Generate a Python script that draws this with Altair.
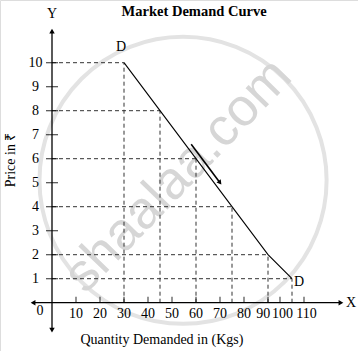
import altair as alt
import pandas as pd

# ---------------- data ----------------
qty = [30, 45, 60, 75, 90, 100]          # quantity demanded (Kgs)
price = [10, 8, 6, 4, 2, 1]              # price in Rs
y_ticks = [1, 2, 3, 4, 5, 6, 7, 8, 9, 10]
y_tick_labels = ["1", "2", "3", "4", "5", "6", "7", "8", "9", "10"]
x_tick_pos = [10, 20, 30, 40, 50, 60, 70, 80, 90, 95, 105]
x_label_pos = [10, 20, 30, 40, 50, 60, 70, 80, 88, 96, 106]
x_tick_labels = ["10", "20", "30", "40", "50", "60", "70", "80", "90", "100", "110"]
curve_labels = ["D", "D"]
move_qty = [58, 70]                      # small arrow along the curve
move_price = [6.6, 5.0]
x_axis_ends = [-7.9, 120.4]
y_axis_ends = [-1.14, 11.32]

title = "Market Demand Curve"
x_title = "Quantity Demanded in (Kgs)"
y_title = "Price in ₹"
watermark = "shaalaa.com"

# ---------------- layout ----------------
W, H = 358, 351
X_DOMAIN = [-52 / 2.4, (358 - 52) / 2.4]
Y_DOMAIN = [(302.7 - 351) / 24, 302.7 / 24]
SERIF = "Liberation Serif"
FS = 14

xs = alt.Scale(domain=X_DOMAIN, nice=False, zero=False)
ys = alt.Scale(domain=Y_DOMAIN, nice=False, zero=False)


def X(f="x"):
    return alt.X(f"{f}:Q", scale=xs, axis=None)


def Y(f="y"):
    return alt.Y(f"{f}:Q", scale=ys, axis=None)


def label(x, y, t, **kw):
    opts = dict(font=SERIF, fontSize=FS, color="#000", align="center", baseline="middle")
    opts.update(kw)
    return alt.Chart(pd.DataFrame({"x": x, "y": y, "t": t})).mark_text(**opts).encode(
        x=X(), y=Y(), text="t:N")


curve = pd.DataFrame({"x": qty, "y": price})

# watermark
ring = alt.Chart(pd.DataFrame({"x": [54.6], "y": [5.1]})).mark_point(
    shape="circle", size=82448, filled=False, stroke="#e3e3e3", strokeWidth=4, opacity=1
).encode(x=X(), y=Y())
wm = label([52.5], [5.3], [watermark], font="Liberation Sans", fontSize=53, color="#d6d6d6", angle=314)

# dashed guides
hd = pd.DataFrame({"x": [0] * len(qty), "x2": qty, "y": price})
vd = pd.DataFrame({"x": qty, "y": [0] * len(qty), "y2": price})
dash_h = alt.Chart(hd).mark_rule(color="#333", strokeDash=[4, 3], strokeWidth=1).encode(
    x=X(), x2="x2:Q", y=Y())
dash_v = alt.Chart(vd).mark_rule(color="#333", strokeDash=[4, 3], strokeWidth=1).encode(
    x=X(), y=Y(), y2="y2:Q")

# axes
xa = alt.Chart(pd.DataFrame({"x": [x_axis_ends[0]], "x2": [x_axis_ends[1]], "y": [0]})).mark_rule(
    color="#000", strokeWidth=1.3).encode(x=X(), x2="x2:Q", y=Y())
ya = alt.Chart(pd.DataFrame({"x": [0], "y": [y_axis_ends[0]], "y2": [y_axis_ends[1]]})).mark_rule(
    color="#000", strokeWidth=1.3).encode(x=X(), y=Y(), y2="y2:Q")
heads = pd.DataFrame({
    "x": [x_axis_ends[0], x_axis_ends[1], 0, 0],
    "y": [0, 0, y_axis_ends[1], y_axis_ends[0]],
    "s": ["triangle-left", "triangle-right", "triangle-up", "triangle-down"],
})
arrowheads = alt.Chart(heads).mark_point(filled=True, color="#000", size=30, opacity=1).encode(
    x=X(), y=Y(), shape=alt.Shape("s:N", scale=None))

yt = alt.Chart(pd.DataFrame({"x": [0] * len(y_ticks), "y": y_ticks})).mark_tick(
    orient="horizontal", size=12, thickness=1.2, color="#000").encode(x=X(), y=Y())
xt = alt.Chart(pd.DataFrame({"x": x_tick_pos, "y": [0] * len(x_tick_pos)})).mark_tick(
    orient="vertical", size=6, thickness=1.2, color="#000", yOffset=-3).encode(x=X(), y=Y())

ylab = label([-6.9] * len(y_ticks), y_ticks, y_tick_labels)
xlab = label(x_label_pos, [-0.47] * len(x_label_pos), x_tick_labels)
zero = label([-5], [-0.35], ["0"])
ylet = label([0], [y_axis_ends[1]], ["Y"], dy=-17)
xlet = label([x_axis_ends[1]], [0], ["X"], align="left", dx=5)

# demand curve
line = alt.Chart(curve).mark_line(color="#000", strokeWidth=1.1).encode(x=X(), y=Y(), order="x:Q")
d1 = label([qty[0]], [price[0]], [curve_labels[0]], dx=-3, dy=-16)
d2 = label([qty[-1]], [price[-1]], [curve_labels[1]], align="left", dx=2, dy=3)

mv = pd.DataFrame({"x": move_qty, "y": move_price})
mline = alt.Chart(mv).mark_line(color="#000", strokeWidth=1.6).encode(x=X(), y=Y(), order="x:Q")
mhead = alt.Chart(mv.iloc[[1]]).mark_point(
    shape="triangle-up", filled=True, color="#000", size=28, angle=143, opacity=1).encode(x=X(), y=Y())

# titles
ttl = label([59.2], [12.1], [title], fontWeight="bold", fontSize=14.5)
xtt = label([45.8], [-1.55], [x_title])
ytt = label([-17.1], [5.95], [y_title], angle=270)

chart = alt.layer(
    ring, wm, dash_h, dash_v, xa, ya, arrowheads, yt, xt, ylab, xlab, zero, ylet, xlet,
    line, d1, d2, mline, mhead, ttl, xtt, ytt,
).properties(
    width=W, height=H,
    padding=0,
    autosize=alt.AutoSizeParams(type="none"),
).configure_view(stroke=None).configure(background="white")

chart.save("out.html", embed_options={"renderer": "svg", "actions": False})
